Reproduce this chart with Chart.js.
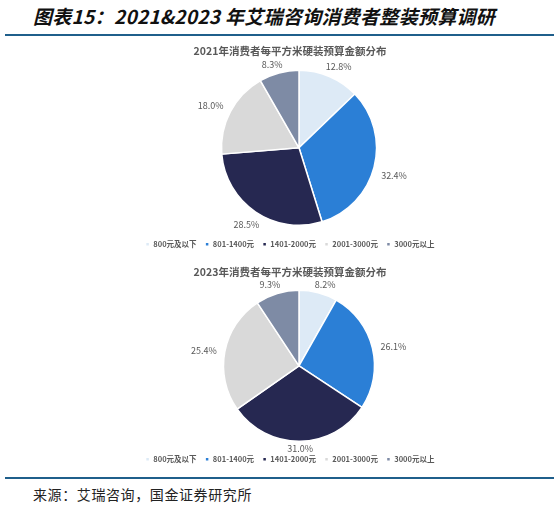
<!DOCTYPE html>
<html><head><meta charset="utf-8">
<script src="https://cdn.jsdelivr.net/npm/chart.js@4.4.0/dist/chart.umd.min.js"></script>
<style>
html,body{margin:0;padding:0;background:#fff;width:559px;height:509px;overflow:hidden;position:relative;font-family:"Noto Sans CJK SC",sans-serif;}
#head{position:absolute;left:33px;top:2px;font-size:19px;font-weight:bold;font-style:italic;color:#111;white-space:nowrap;letter-spacing:0.3px;}
.rule{position:absolute;left:5px;width:549px;height:2px;background:#1F5F8B;}
#src{position:absolute;left:33px;top:484px;font-size:14px;color:#222;white-space:nowrap;letter-spacing:0.6px;}
.box{position:absolute;left:90px;width:400px;}
</style></head>
<body>
<div id="head">图表15：2021&amp;2023 年艾瑞咨询消费者整装预算调研</div>
<div class="rule" style="top:34px"></div>
<div class="box" style="top:42px;height:216px"><canvas id="c1"></canvas></div>
<div class="box" style="top:263px;height:210px"><canvas id="c2"></canvas></div>
<div class="rule" style="top:477px"></div>
<div id="src">来源：艾瑞咨询，国金证券研究所</div>
<script>
const categories = ['800元及以下','801-1400元','1401-2000元','2001-3000元','3000元以上'];
const values2021 = [12.8, 32.4, 28.5, 18.0, 8.3];
const values2023 = [8.2, 26.1, 31.0, 25.4, 9.3];
const title2021 = '2021年消费者每平方米硬装预算金额分布';
const title2023 = '2023年消费者每平方米硬装预算金额分布';
const colors = ['#DDEAF6','#2B7FD6','#262851','#D9D9D9','#7E8BA5'];
const FONT = '"Noto Sans CJK SC", sans-serif';

const outLabels = {
  id: 'outLabels',
  beforeDatasetsDraw(chart, args, opts) {
    chart.ctx.save();
    chart.ctx.translate(opts.shiftX || 0, 0);
  },
  afterDatasetsDraw(chart, args, opts) {
    const ctx = chart.ctx;
    const meta = chart.getDatasetMeta(0);
    const data = chart.data.datasets[0].data;
    ctx.font = '9px ' + FONT;
    ctx.fillStyle = '#595959';
    ctx.textAlign = 'center';
    ctx.textBaseline = 'middle';
    meta.data.forEach((arc, i) => {
      const p = arc.getProps(['x','y','startAngle','endAngle','outerRadius'], true);
      const mid = (p.startAngle + p.endAngle) / 2;
      const ux = Math.cos(mid), uy = Math.sin(mid);
      const txt = data[i].toFixed(1) + '%';
      const w = ctx.measureText(txt).width, h = 10;
      const d = p.outerRadius + 3 + Math.abs(ux) * (w / 2 + 4) + Math.abs(uy) * h / 2;
      const x = p.x + ux * d + Math.sign(ux) * 4 * Math.max(0, -uy);
      const y = p.y + uy * d + (uy < 0.5 ? 3 : -1);
      ctx.fillText(txt, x, y);
    });
    ctx.restore();
  }
};

function makeChart(id, values, title, radius) {
  return new Chart(document.getElementById(id), {
    type: 'pie',
    data: {
      labels: categories,
      datasets: [{ data: values, backgroundColor: colors, borderColor: '#ffffff', borderWidth: 1.5 }]
    },
    options: {
      responsive: true,
      maintainAspectRatio: false,
      animation: false,
      radius: radius,
      layout: { padding: 0 },
      plugins: {
        title: { display: true, text: title, color: '#595959', font: { family: FONT, size: 10.5, weight: 'bold' }, padding: { top: 2.5, bottom: 6.5 } },
        legend: {
          position: 'bottom',
          labels: { color: '#595959', boxWidth: 4, boxHeight: 4, padding: 8.5, font: { family: FONT, size: 7.5, weight: 'bold' } }
        },
        tooltip: { enabled: false },
        outLabels: { shiftX: 9 }
      }
    },
    plugins: [outLabels]
  });
}
makeChart('c1', values2021, title2021, 77.5);
makeChart('c2', values2023, title2023, 75.5);
</script>
</body></html>
